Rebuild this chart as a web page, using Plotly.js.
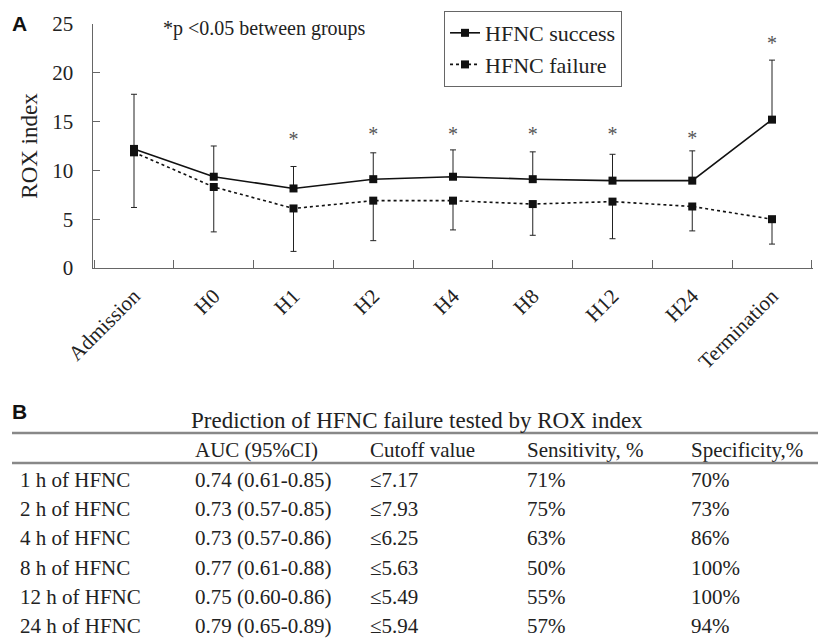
<!DOCTYPE html>
<html>
<head>
<meta charset="utf-8">
<script src="https://cdn.plot.ly/plotly-3.0.1.min.js"></script>
<style>html,body{margin:0;padding:0;background:#fff;}#chart{width:818px;height:642px;}</style>
</head>
<body>
<div id="chart"></div>
<script>
// ---- Panel A data ----
const timepoints = ["Admission", "H0", "H1", "H2", "H4", "H8", "H12", "H24", "Termination"];
const successMean = [12.2, 9.35, 8.15, 9.1, 9.35, 9.1, 8.95, 8.95, 15.2];
const successSD   = [5.6, 3.15, 2.25, 2.7, 2.75, 2.8, 2.7, 3.05, 6.1];
const failureMean = [11.85, 8.3, 6.1, 6.9, 6.9, 6.55, 6.8, 6.3, 5.0];
const failureSD   = [5.65, 4.6, 4.4, 4.1, 3.0, 3.2, 3.8, 2.5, 2.55];
const starY       = [null, null, 13.0, 13.5, 13.5, 13.5, 13.5, 13.1, 22.8];
const yTicks      = [0, 5, 10, 15, 20, 25];

// ---- Panel B table data ----
const tableTitle  = "Prediction of HFNC failure tested by ROX index";
const tableHeader = ["", "AUC (95%CI)", "Cutoff value", "Sensitivity, %", "Specificity,%"];
const rowLabels   = ["1 h of HFNC", "2 h of HFNC", "4 h of HFNC", "8 h of HFNC", "12 h of HFNC", "24 h of HFNC"];
const aucCI       = ["0.74 (0.61-0.85)", "0.73 (0.57-0.85)", "0.73 (0.57-0.86)", "0.77 (0.61-0.88)", "0.75 (0.60-0.86)", "0.79 (0.65-0.89)"];
const cutoff      = ["\u22647.17", "\u22647.93", "\u22646.25", "\u22645.63", "\u22645.49", "\u22645.94"];
const sensitivity = ["71%", "75%", "63%", "50%", "55%", "57%"];
const specificity = ["70%", "73%", "86%", "100%", "100%", "94%"];

const serif = "Liberation Serif";
const sans = "Liberation Sans";
const ink = "#222";

const traces = [
  {
    type: "scatter", mode: "lines+markers", name: "HFNC success",
    x: timepoints, y: successMean,
    line: {color: "#111", width: 1.6, dash: "solid"},
    marker: {symbol: "square", size: 8, color: "#111"},
    error_y: {type: "data", symmetric: false, array: successSD, arrayminus: successMean.map(() => 0),
              color: "#222", thickness: 1, width: 3},
    xaxis: "x", yaxis: "y"
  },
  {
    type: "scatter", mode: "lines+markers", name: "HFNC failure",
    x: timepoints, y: failureMean,
    line: {color: "#111", width: 1.6, dash: "dot"},
    marker: {symbol: "square", size: 8, color: "#111"},
    error_y: {type: "data", symmetric: false, array: failureMean.map(() => 0), arrayminus: failureSD,
              color: "#222", thickness: 1, width: 3},
    xaxis: "x", yaxis: "y"
  },
  {
    type: "scatter", mode: "text", showlegend: false, hoverinfo: "skip",
    x: timepoints, y: starY, text: starY.map(v => v === null ? "" : "*"),
    textposition: "middle center",
    textfont: {family: serif, size: 20, color: "#555"},
    xaxis: "x", yaxis: "y"
  },
  {
    type: "table",
    domain: {x: [0, 1], y: [0, 0.3382]},
    columnwidth: [175, 175, 157, 164, 135],
    header: {
      values: tableHeader,
      align: "left", height: 30,
      fill: {color: "rgba(0,0,0,0)"},
      line: {color: "rgba(0,0,0,0)", width: 0},
      font: {family: serif, size: 21, color: ink}
    },
    cells: {
      values: [rowLabels, aucCI, cutoff, sensitivity, specificity],
      align: "left", height: 29.3,
      fill: {color: "rgba(0,0,0,0)"},
      line: {color: "rgba(0,0,0,0)", width: 0},
      font: {family: serif, size: 21, color: ink}
    }
  }
];

const layout = {
  width: 818, height: 642,
  margin: {l: 12, r: 0, t: 24, b: 0, pad: 0},
  paper_bgcolor: "#fff", plot_bgcolor: "#fff",
  font: {family: serif, size: 20, color: ink},
  showlegend: true,
  legend: {
    x: 0.536, y: 1.021, xanchor: "left", yanchor: "top",
    bgcolor: "#fff", bordercolor: "#666", borderwidth: 1,
    font: {family: serif, size: 22, color: ink},
    tracegroupgap: 0
  },
  xaxis: {
    domain: [0.1005, 0.9938],
    type: "category",
    tickson: "boundaries",
    ticks: "inside", ticklen: 8, tickcolor: "#666", tickwidth: 1,
    showline: true, linecolor: "#666", linewidth: 1.5,
    showgrid: false, zeroline: false,
    tickangle: -45, ticklabelstandoff: 6,
    tickfont: {family: serif, size: 21, color: ink},
    fixedrange: true
  },
  yaxis: {
    domain: [0.6052, 1],
    range: [0, 25],
    tickvals: yTicks,
    ticks: "inside", ticklen: 7, tickcolor: "#666", tickwidth: 1,
    showline: true, linecolor: "#666", linewidth: 1.5,
    showgrid: false, zeroline: false,
    ticklabelstandoff: 14,
    tickfont: {family: serif, size: 21, color: ink},
    title: {text: "ROX index", font: {family: serif, size: 23, color: ink}, standoff: 8},
    fixedrange: true
  },
  annotations: [
    {xref: "paper", yref: "paper", x: 0.0099, y: 1.0016, xanchor: "center", yanchor: "middle",
     text: "<b>A</b>", showarrow: false, font: {family: sans, size: 21, color: "#111"}},
    {xref: "paper", yref: "paper", x: 0.3127, y: 0.9935, xanchor: "center", yanchor: "middle",
     text: "*p &lt;0.05 between groups", showarrow: false, font: {family: serif, size: 20, color: ink}},
    {xref: "paper", yref: "paper", x: 0.0087, y: 0.3722, xanchor: "center", yanchor: "middle",
     text: "<b>B</b>", showarrow: false, font: {family: sans, size: 21, color: "#111"}},
    {xref: "paper", yref: "paper", x: 0.5025, y: 0.3592, xanchor: "center", yanchor: "middle",
     text: tableTitle, showarrow: false, font: {family: serif, size: 23, color: ink}}
  ],
  shapes: [
    {type: "line", xref: "paper", yref: "paper", x0: 0, x1: 1, y0: 0.3382, y1: 0.3382, line: {color: "#888", width: 2.5}},
    {type: "line", xref: "paper", yref: "paper", x0: 0, x1: 1, y0: 0.2896, y1: 0.2896, line: {color: "#888", width: 2.5}}
  ]
};

Plotly.newPlot("chart", traces, layout, {displayModeBar: false, staticPlot: true});
</script>
</body>
</html>
